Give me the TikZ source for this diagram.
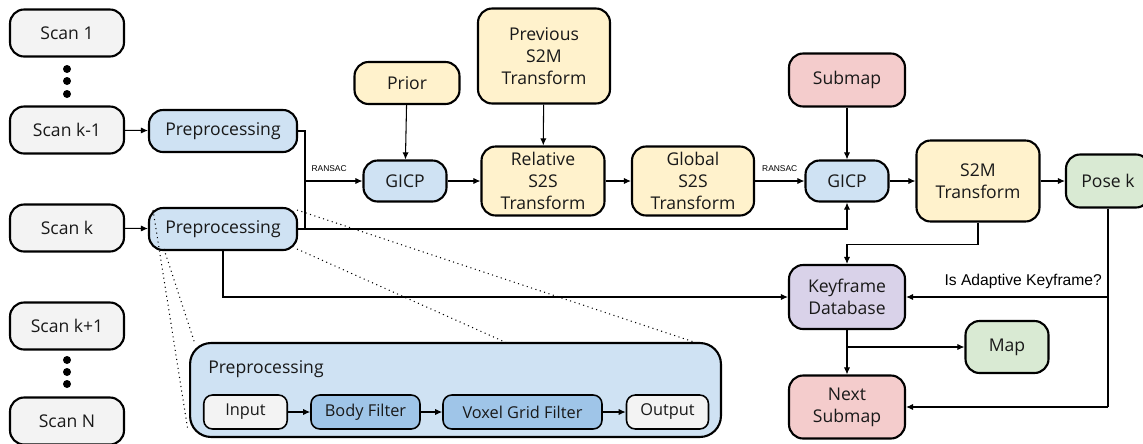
\documentclass[tikz,border=0pt]{standalone}
\usepackage{fontspec}
\setmainfont{Open Sans}
\newfontfamily\arialf{Liberation Sans}
\usetikzlibrary{arrows.meta}
\definecolor{cgray}{HTML}{F3F3F3}
\definecolor{cblue}{HTML}{CFE2F3}
\definecolor{cdblue}{HTML}{9FC5E8}
\definecolor{cyellow}{HTML}{FFF2CC}
\definecolor{cred}{HTML}{F4CCCC}
\definecolor{cgreen}{HTML}{D9EAD3}
\definecolor{cpurple}{HTML}{D9D2E9}
\tikzset{
  box/.style={draw=black, line width=1.2pt, rounded corners=8pt, align=center, inner sep=0pt,
    font=\fontsize{10}{12.5}\selectfont, text=black!90},
  small/.style={draw=black, line width=0.9pt, rounded corners=5pt, align=center, inner sep=0pt,
    font=\fontsize{9.3}{10}\selectfont, minimum height=0.68cm, text=black!90},
  conn/.style={line width=0.6pt, -{Latex[length=4pt,width=3.5pt]}},
  plain/.style={line width=0.6pt},
  dotl/.style={line width=0.6pt, dotted},
  dot/.style={circle, fill=black, inner sep=0pt, minimum size=0.16cm},
}
\begin{document}
\begin{tikzpicture}[x=0.02cm, y=-0.02cm]
\useasboundingbox (0,0) rectangle (1143,443);
\begin{scope}
\clip (0,0) rectangle (1143,443);
% scans
\node[box, fill=cgray, minimum width=2.28cm, minimum height=0.94cm] (s1) at (67,33) {Scan 1};
\node[box, fill=cgray, minimum width=2.28cm, minimum height=0.94cm] (skm) at (67,130) {Scan k-1};
\node[box, fill=cgray, minimum width=2.28cm, minimum height=0.94cm] (sk) at (67,228) {Scan k};
\node[box, fill=cgray, minimum width=2.28cm, minimum height=0.94cm] (skp) at (67,326) {Scan k+1};
\node[box, fill=cgray, minimum width=2.28cm, minimum height=0.94cm] (sn) at (67,421) {Scan N};
\node[dot] (d1) at (67,69) {};
\node[dot] (d2) at (67,81) {};
\node[dot] (d3) at (67,94) {};
\node[dot] (d4) at (67,360) {};
\node[dot] (d5) at (67,372) {};
\node[dot] (d6) at (67,384) {};
% preprocessing
\node[box, fill=cblue, minimum width=2.96cm, minimum height=0.84cm] (p1) at (223,131) {Preprocessing};
\node[box, fill=cblue, minimum width=2.96cm, minimum height=0.84cm] (p2) at (223,229) {Preprocessing};
% middle
\node[box, fill=cyellow, minimum width=2.1cm, minimum height=0.84cm] (prior) at (407,83) {Prior};
\node[box, fill=cyellow, minimum width=2.64cm, minimum height=1.9cm] (prev) at (544,56) {Previous\\S2M\\Transform};
\node[box, fill=cblue, minimum width=1.66cm, minimum height=0.82cm] (g1) at (405,181) {GICP};
\node[box, fill=cyellow, minimum width=2.46cm, minimum height=1.38cm] (rel) at (543,181) {Relative\\S2S\\Transform};
\node[box, fill=cyellow, minimum width=2.44cm, minimum height=1.38cm] (glob) at (693,181) {Global\\S2S\\Transform};
\node[box, fill=cred, minimum width=2.32cm, minimum height=1.06cm] (sub) at (847,80) {Submap};
\node[box, fill=cblue, minimum width=1.66cm, minimum height=0.82cm] (g2) at (847,181) {GICP};
\node[box, fill=cyellow, minimum width=2.46cm, minimum height=1.62cm] (s2m) at (978,181) {S2M\\Transform};
\node[box, fill=cgreen, minimum width=1.68cm, minimum height=1.06cm] (pose) at (1108,181) {Pose k};
\node[box, fill=cpurple, minimum width=2.32cm, minimum height=1.28cm] (kf) at (847,297) {Keyframe\\Database};
\node[box, fill=cgreen, minimum width=1.66cm, minimum height=1.04cm] (map) at (1007,347) {Map};
\node[box, fill=cred, minimum width=2.32cm, minimum height=1.26cm] (next) at (847,407) {Next\\Submap};
% big preprocessing box
\node[draw=black, line width=1.2pt, rounded corners=12pt, fill=cblue, minimum width=10.62cm, minimum height=1.88cm, inner sep=0pt] (big) at (455.5,390) {};
\node[anchor=west, font=\fontsize{10}{11}\selectfont, inner sep=0pt, text=black!90] (bigl) at (208,369) {Preprocessing};
\node[small, fill=cgray, minimum width=1.67cm] (in) at (245.5,412) {Input};
\node[small, fill=cdblue, minimum width=2.18cm] (bf) at (365.5,412) {Body Filter};
\node[small, fill=cdblue, minimum width=3.18cm] (vg) at (522.5,412) {Voxel Grid Filter};
\node[small, fill=cgray, minimum width=1.64cm] (out) at (667.5,412) {Output};
\end{scope}
% coordinates
\coordinate (j1) at (305,131);
\coordinate (j2) at (305,229);
\coordinate (j3) at (305,181);
% connectors
\draw[conn] (skm) -- (p1);
\draw[conn] (sk) -- (p2);
\draw[plain] (p1.east) -- (j1) -- (j2);
\draw[conn] (j3) -- node[above=2pt, font=\arialf\fontsize{4.8}{5}\selectfont, pos=0.42] (r1) {RANSAC} (g1);
\draw[conn] (p2.east) -| (g2.south);
\draw[conn] (prior) -- (g1);
\draw[conn] (g1) -- (rel);
\draw[conn] (prev) -- (rel);
\draw[conn] (rel) -- (glob);
\draw[conn] (glob) -- node[above=2pt, font=\arialf\fontsize{4.8}{5}\selectfont, pos=0.5] (r2) {RANSAC} (g2);
\draw[conn] (sub) -- (g2);
\draw[conn] (g2) -- (s2m);
\draw[conn] (s2m) -- (pose);
\draw[conn] (s2m.south) -- ++(0,22) -| (kf.north);
\draw[conn] (p2.south) |- (kf.west);
\coordinate (pk1) at (1108,297);
\coordinate (pk2) at (1108,407);
\draw[plain] (pose.south) -- (pk2);
\draw[conn] (pk1) -- node[above=1pt, font=\arialf\fontsize{8.9}{10}\selectfont, pos=0.42] (ak) {Is Adaptive Keyframe?} (kf.east);
\draw[conn] (pk2) -- (next.east);
\draw[conn] (kf) -- (next);
\coordinate (km) at (847,347);
\draw[conn] (km) -- (map.west);
\draw[conn] (in) -- (bf);
\draw[conn] (bf) -- (vg);
\draw[conn] (vg) -- (out);
% dotted zoom lines
\draw[dotl] (153,210) -- (188,431);
\draw[dotl] (164,249) -- (195,344);
\draw[dotl] (297,210) -- (697,343);
\draw[dotl] (297,249) -- (507,343);
\end{tikzpicture}
\end{document}
